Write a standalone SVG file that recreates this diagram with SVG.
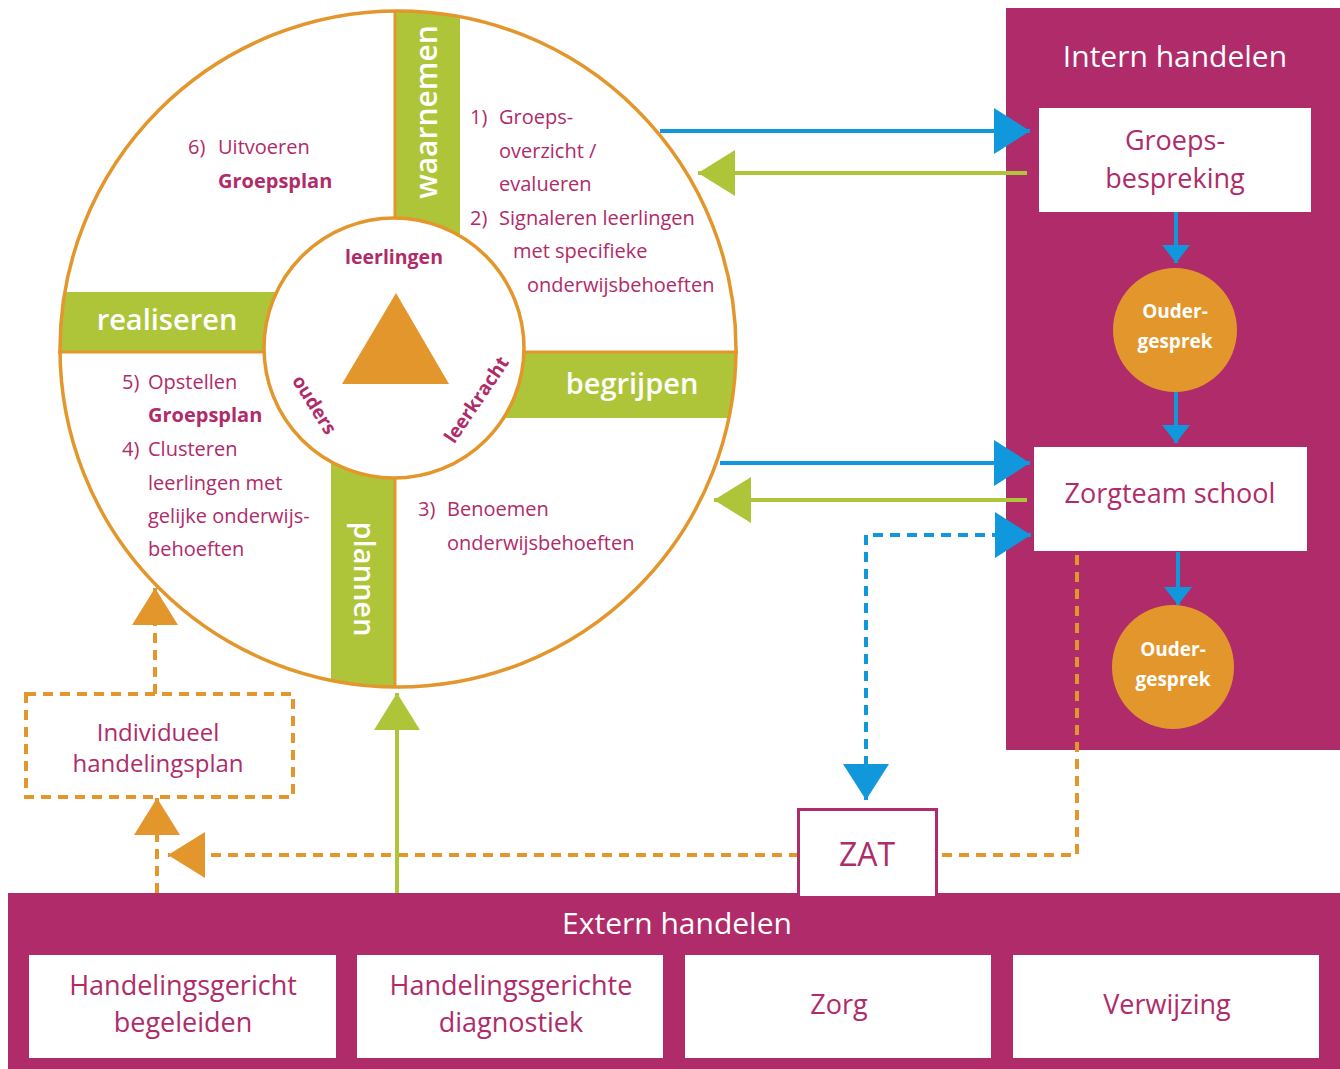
<svg xmlns="http://www.w3.org/2000/svg" width="1340" height="1069" viewBox="0 0 1340 1069">
<style>
.t{font-family:"Open Sans","Noto Sans",sans-serif;fill:#B02B69}
.w{fill:#fff}
.b{font-weight:700}
.sb{font-weight:600}
.it{font-size:20px}
.mid{text-anchor:middle}
.org{stroke:#E3962B;fill:none}
.dash{stroke-dasharray:10 7}
</style>
<defs>
<clipPath id="outer"><circle cx="398" cy="349" r="338"/></clipPath>
<marker id="aBlue" markerUnits="userSpaceOnUse" markerWidth="36" markerHeight="46" refX="36" refY="23" orient="auto-start-reverse" viewBox="0 0 36 46"><path d="M0,0 L36,23 L0,46 Z" fill="#1097DC"/></marker>
<marker id="aBlueS" markerUnits="userSpaceOnUse" markerWidth="18" markerHeight="28" refX="18" refY="14" orient="auto" viewBox="0 0 18 28"><path d="M0,0 L18,14 L0,28 Z" fill="#1097DC"/></marker>
<marker id="aGreen" markerUnits="userSpaceOnUse" markerWidth="37" markerHeight="46" refX="37" refY="23" orient="auto" viewBox="0 0 37 46"><path d="M0,0 L37,23 L0,46 Z" fill="#AEC53A"/></marker>
<marker id="aOrange" markerUnits="userSpaceOnUse" markerWidth="37" markerHeight="46" refX="37" refY="23" orient="auto" viewBox="0 0 37 46"><path d="M0,0 L37,23 L0,46 Z" fill="#E3962B"/></marker>
</defs>
<rect width="1340" height="1069" fill="#fff"/>

<g id="intern-panel">
<rect x="1006" y="8" width="334" height="742" fill="#B02B69"/>
<text class="t w mid" x="1175" y="67" font-size="30">Intern handelen</text>
</g>

<g id="extern-panel">
<rect x="8" y="893" width="1332" height="176" fill="#B02B69"/>
<text class="t w mid" x="677" y="934" font-size="30">Extern handelen</text>
</g>

<g id="wheel">
<circle cx="398" cy="349" r="338" fill="#fff"/>
<g clip-path="url(#outer)" fill="#AEC53A">
<rect x="395" y="0" width="65" height="352"/>
<rect x="395" y="352" width="350" height="66"/>
<rect x="331" y="352" width="64" height="345"/>
<rect x="50" y="292" width="345" height="60"/>
</g>
<line class="org" x1="395" y1="10" x2="395" y2="688" stroke-width="3"/>
<line class="org" x1="58" y1="352" x2="738" y2="352" stroke-width="3"/>
<circle class="org" cx="398" cy="349" r="338" stroke-width="3.5"/>
<circle cx="394" cy="348" r="130" fill="#fff" stroke="#E3962B" stroke-width="3.5"/>
<polygon points="396,293 342,384 449,384" fill="#E3962B"/>
<text class="t b mid" x="394" y="264" font-size="19.5">leerlingen</text>
<text class="t b mid" font-size="19" transform="translate(314,405) rotate(58)" y="6">ouders</text>
<text class="t b mid" font-size="19" transform="translate(477,400) rotate(-56)" y="6">leerkracht</text>
<text class="t w sb mid" font-size="30" transform="translate(428,112) rotate(-90)" y="9">waarnemen</text>
<text class="t w sb mid" font-size="29" x="167" y="330">realiseren</text>
<text class="t w sb mid" font-size="29" x="632" y="394">begrijpen</text>
<text class="t w sb mid" font-size="29" transform="translate(363,579) rotate(90)" y="9">plannen</text>
<g class="t it">
<text x="470" y="124">1)</text><text x="499" y="124">Groeps-</text>
<text x="499" y="158">overzicht /</text>
<text x="499" y="191">evalueren</text>
<text x="470" y="225">2)</text><text x="499" y="225">Signaleren leerlingen</text>
<text x="513" y="258">met specifieke</text>
<text x="527" y="292">onderwijsbehoeften</text>
<text x="188" y="154">6)</text><text x="218" y="154">Uitvoeren</text>
<text class="b" x="218" y="188">Groepsplan</text>
<text x="122" y="389">5)</text><text x="148" y="389">Opstellen</text>
<text class="b" x="148" y="422">Groepsplan</text>
<text x="122" y="456">4)</text><text x="148" y="456">Clusteren</text>
<text x="148" y="490">leerlingen met</text>
<text x="148" y="523">gelijke onderwijs-</text>
<text x="148" y="556">behoeften</text>
<text x="418" y="516">3)</text><text x="447" y="516">Benoemen</text>
<text x="447" y="550">onderwijsbehoeften</text>
</g>
</g>

<g id="connectors" fill="none" stroke-width="4">
<line x1="660" y1="131" x2="1030" y2="131" stroke="#1097DC" marker-end="url(#aBlue)"/>
<line x1="1027" y1="173" x2="698" y2="173" stroke="#AEC53A" marker-end="url(#aGreen)"/>
<line x1="720" y1="463" x2="1030" y2="463" stroke="#1097DC" marker-end="url(#aBlue)"/>
<line x1="1027" y1="500" x2="714" y2="500" stroke="#AEC53A" marker-end="url(#aGreen)"/>
<path d="M866,800 V535 H1031" stroke="#1097DC" class="dash" marker-start="url(#aBlue)" marker-end="url(#aBlue)"/>
<path d="M1077,555 V855 H168" class="org dash" stroke-width="4" marker-end="url(#aOrange)"/>
<path d="M157,893 V798" class="org dash" stroke-width="4" marker-end="url(#aOrange)"/>
<path d="M155,694 V588" class="org dash" stroke-width="4" marker-end="url(#aOrange)"/>
<path d="M397,893 V693" stroke="#AEC53A" marker-end="url(#aGreen)"/>
<path d="M1176,212 V263" stroke="#1097DC" marker-end="url(#aBlueS)"/>
<path d="M1176,392 V443" stroke="#1097DC" marker-end="url(#aBlueS)"/>
<path d="M1178,552 V605" stroke="#1097DC" marker-end="url(#aBlueS)"/>
</g>

<g id="groepsbespreking">
<rect x="1039" y="108" width="272" height="104" fill="#fff"/>
<text class="t mid" font-size="27" x="1175" y="150">Groeps-</text>
<text class="t mid" font-size="27" x="1175" y="188">bespreking</text>
</g>
<g id="oudergesprek-1">
<circle cx="1175" cy="330" r="62" fill="#E3962B"/>
<text class="t w b mid" font-size="19" x="1175" y="318">Ouder-</text>
<text class="t w b mid" font-size="19" x="1175" y="348">gesprek</text>
</g>
<g id="zorgteam">
<rect x="1034" y="447" width="273" height="104" fill="#fff"/>
<text class="t mid" font-size="27" x="1170" y="503">Zorgteam school</text>
</g>
<g id="oudergesprek-2">
<ellipse cx="1173" cy="667" rx="61" ry="62" fill="#E3962B"/>
<text class="t w b mid" font-size="19" x="1173" y="656">Ouder-</text>
<text class="t w b mid" font-size="19" x="1173" y="686">gesprek</text>
</g>
<g id="zat">
<rect x="798.5" y="809.5" width="138" height="88" fill="#fff" stroke="#B02B69" stroke-width="3"/>
<text class="t mid" font-size="32" x="867" y="866">ZAT</text>
</g>
<g id="individueel">
<rect x="26" y="694" width="267" height="103" fill="#fff" class="org dash" stroke-width="4"/>
<text class="t mid" font-size="24" x="158" y="741">Individueel</text>
<text class="t mid" font-size="24" x="158" y="772">handelingsplan</text>
</g>
<g id="extern-boxes">
<g id="box-begeleiden"><rect x="29" y="955" width="307" height="103" fill="#fff"/>
<text class="t mid" font-size="27" x="183" y="995">Handelingsgericht</text>
<text class="t mid" font-size="27" x="183" y="1032">begeleiden</text></g>
<g id="box-diagnostiek"><rect x="357" y="955" width="306" height="103" fill="#fff"/>
<text class="t mid" font-size="27" x="511" y="995">Handelingsgerichte</text>
<text class="t mid" font-size="27" x="511" y="1032">diagnostiek</text></g>
<g id="box-zorg"><rect x="685" y="955" width="306" height="103" fill="#fff"/>
<text class="t mid" font-size="27" x="839" y="1014">Zorg</text></g>
<g id="box-verwijzing"><rect x="1013" y="955" width="306" height="103" fill="#fff"/>
<text class="t mid" font-size="27" x="1167" y="1014">Verwijzing</text></g>
</g>
</svg>
